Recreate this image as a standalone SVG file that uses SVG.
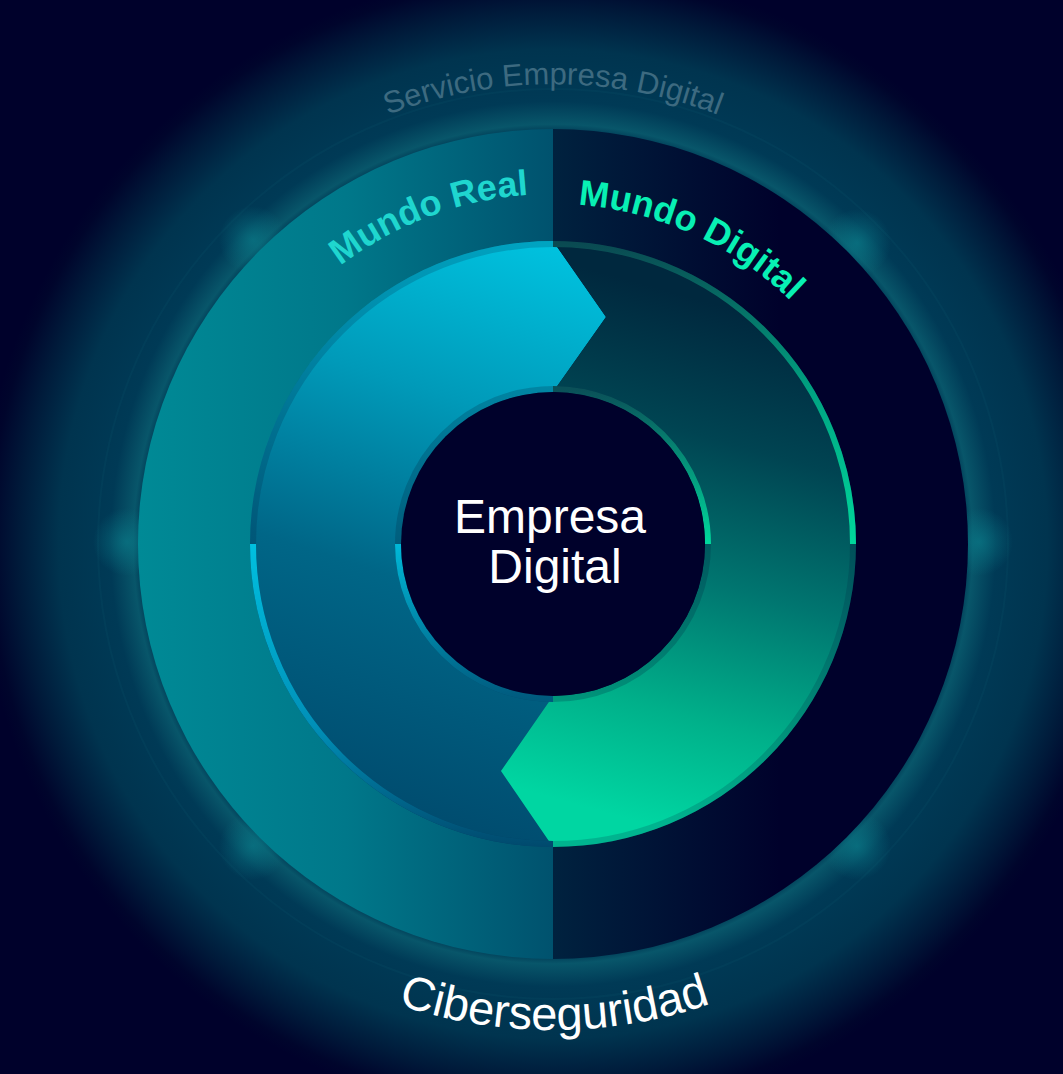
<svg xmlns="http://www.w3.org/2000/svg" width="1063" height="1074" viewBox="0 0 1063 1074">
<defs>
<style>
.lbl{font-family:"Liberation Sans",Arial,sans-serif}
.bold{font-weight:bold}
</style>
<radialGradient id="glow" cx="553" cy="544" r="575" gradientUnits="userSpaceOnUse">
<stop offset="0" stop-color="#003a55"/>
<stop offset="0.715" stop-color="#003a55"/>
<stop offset="0.73" stop-color="#08566a"/>
<stop offset="0.77" stop-color="#003a56"/>
<stop offset="0.86" stop-color="#00344f"/>
<stop offset="0.93" stop-color="#001a3a"/>
<stop offset="0.98" stop-color="#00052c"/>
<stop offset="1" stop-color="#00012b"/>
</radialGradient>
<linearGradient id="leftRing" x1="138" y1="0" x2="553" y2="0" gradientUnits="userSpaceOnUse">
<stop offset="0" stop-color="#008a96"/>
<stop offset="0.5" stop-color="#00788a"/>
<stop offset="1" stop-color="#00526e"/>
</linearGradient>
<linearGradient id="rightRing" x1="553" y1="0" x2="780" y2="0" gradientUnits="userSpaceOnUse">
<stop offset="0" stop-color="#00223f"/>
<stop offset="1" stop-color="#00012b"/>
</linearGradient>
<linearGradient id="blueFill" x1="600" y1="260" x2="420" y2="820" gradientUnits="userSpaceOnUse">
<stop offset="0" stop-color="#00c2df"/>
<stop offset="0.3" stop-color="#009ab9"/>
<stop offset="0.62" stop-color="#006687"/>
<stop offset="1" stop-color="#004c6f"/>
</linearGradient>
<linearGradient id="greenFill" x1="560" y1="800" x2="700" y2="300" gradientUnits="userSpaceOnUse">
<stop offset="0" stop-color="#00d6a2"/>
<stop offset="0.22" stop-color="#00b08a"/>
<stop offset="0.48" stop-color="#007670"/>
<stop offset="0.75" stop-color="#004452"/>
<stop offset="1" stop-color="#00283e"/>
</linearGradient>
<linearGradient id="cyanArc" x1="0" y1="544" x2="0" y2="846" gradientUnits="userSpaceOnUse">
<stop offset="0" stop-color="#00c0e0"/>
<stop offset="0.6" stop-color="#0090b8"/>
<stop offset="1" stop-color="#004a6e"/>
</linearGradient>
<linearGradient id="greenArc" x1="0" y1="544" x2="0" y2="244" gradientUnits="userSpaceOnUse">
<stop offset="0" stop-color="#00d89c"/>
<stop offset="0.5" stop-color="#00a482"/>
<stop offset="1" stop-color="#0a4a52"/>
</linearGradient>
<linearGradient id="cyanArcIn" x1="0" y1="544" x2="0" y2="699" gradientUnits="userSpaceOnUse">
<stop offset="0" stop-color="#00b8d8"/>
<stop offset="1" stop-color="#005a7e"/>
</linearGradient>
<linearGradient id="greenArcIn" x1="0" y1="544" x2="0" y2="389" gradientUnits="userSpaceOnUse">
<stop offset="0" stop-color="#00d89c"/>
<stop offset="1" stop-color="#0a5058"/>
</linearGradient>
<radialGradient id="spot">
<stop offset="0" stop-color="#0a7a88" stop-opacity="0.7"/>
<stop offset="1" stop-color="#0a7a88" stop-opacity="0"/>
</radialGradient>
<path id="pServ" d="M93,544 A460,460 0 0 1 1013,544"/>
<path id="pReal" d="M203,544 A350,350 0 0 1 903,544"/>
<path id="pDig" d="M213,544 A340,340 0 0 1 893,544"/>
<path id="pCiber" d="M67,544 A486,486 0 0 0 1039,544"/>
</defs>
<rect width="1063" height="1074" fill="#00012b"/>
<g id="background-glow">
<circle cx="553" cy="544" r="575" fill="url(#glow)"/>
<circle cx="553" cy="544" r="455" fill="none" stroke="#0a5a6e" stroke-opacity="0.18" stroke-width="2"/>
<circle cx="127" cy="542" r="34" fill="url(#spot)"/>
<circle cx="979" cy="542" r="34" fill="url(#spot)"/>
<circle cx="253" cy="240" r="34" fill="url(#spot)"/>
<circle cx="857" cy="243" r="34" fill="url(#spot)"/>
<circle cx="253" cy="846" r="34" fill="url(#spot)"/>
<circle cx="857" cy="846" r="34" fill="url(#spot)"/>
</g>
<g id="node-ciberseguridad">
<path d="M553,129 A415,415 0 0 0 553,959 Z" fill="url(#leftRing)"/>
<path d="M553,129 A415,415 0 0 1 553,959 Z" fill="url(#rightRing)"/>
</g>
<g id="node-mundo-real">
<path d="M553,241 A303,303 0 0 0 553,847 L501,771 L553,696 A152,152 0 0 1 553,392 L606,317 Z" fill="url(#blueFill)"/>
</g>
<g id="node-mundo-digital">
<path d="M553,241 L606,317 L553,392 A152,152 0 0 1 553,696 L501,771 L553,847 A303,303 0 0 0 553,241 Z" fill="url(#greenFill)"/>
</g>
<g id="ring-lines">
<circle cx="553" cy="544" r="300" fill="none" stroke="#001e3c" stroke-opacity="0.18" stroke-width="6"/>
<path d="M253,544 A300,300 0 0 0 553,844" fill="none" stroke="url(#cyanArc)" stroke-width="6"/>
<path d="M853,544 A300,300 0 0 0 553,244" fill="none" stroke="url(#greenArc)" stroke-width="6"/>
<circle cx="553" cy="544" r="155" fill="none" stroke="#001e3c" stroke-opacity="0.22" stroke-width="6"/>
<path d="M398,544 A155,155 0 0 0 553,699" fill="none" stroke="url(#cyanArcIn)" stroke-width="6"/>
<path d="M708,544 A155,155 0 0 0 553,389" fill="none" stroke="url(#greenArcIn)" stroke-width="6"/>
</g>
<g id="node-empresa-digital">
<circle cx="553" cy="544" r="152" fill="#00012b"/>
<text class="lbl" x="550" y="533" font-size="48" fill="#ffffff" text-anchor="middle">Empresa</text>
<text class="lbl" x="555" y="583" font-size="48" fill="#ffffff" text-anchor="middle">Digital</text>
</g>
<g id="labels">
<text class="lbl" font-size="31" fill="#3d6a80"><textPath href="#pServ" startOffset="50%" text-anchor="middle">Servicio Empresa Digital</textPath></text>
<text class="lbl bold" font-size="36" fill="#1fd6cf"><textPath href="#pReal" startOffset="525" text-anchor="end">Mundo Real</textPath></text>
<text class="lbl bold" font-size="36" fill="#08f0b4"><textPath href="#pDig" startOffset="559">Mundo Digital</textPath></text>
<text class="lbl" font-size="47" fill="#ffffff"><textPath href="#pCiber" startOffset="50.1%" text-anchor="middle">Ciberseguridad</textPath></text>
</g>
<g id="connectors"/>
</svg>
